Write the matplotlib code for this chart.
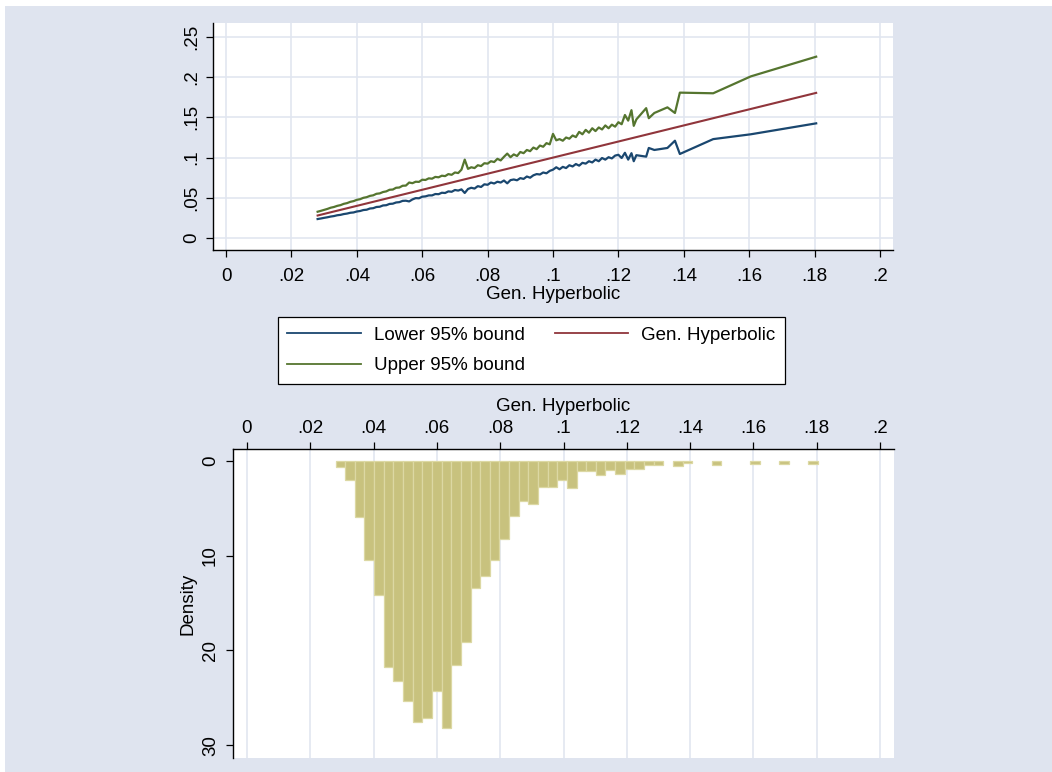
import numpy as np
import matplotlib
matplotlib.use("Agg")
import matplotlib.pyplot as plt
from matplotlib.patches import Rectangle

plt.rcParams['font.family'] = ['Liberation Sans', 'DejaVu Sans']

# Quantiles of the Gen. Hyperbolic estimate with 95% bounds
gh = [0.028, 0.029, 0.030, 0.031, 0.032, 0.033, 0.034, 0.035, 0.036, 0.037,
      0.038, 0.039, 0.040, 0.041, 0.042, 0.043, 0.044, 0.045, 0.046, 0.047,
      0.048, 0.049, 0.050, 0.051, 0.052, 0.053, 0.054, 0.055, 0.056, 0.057,
      0.058, 0.059, 0.060, 0.061, 0.062, 0.063, 0.064, 0.065, 0.066, 0.067,
      0.068, 0.069, 0.070, 0.071, 0.072, 0.073, 0.074, 0.075, 0.076, 0.077,
      0.078, 0.079, 0.080, 0.081, 0.082, 0.083, 0.084, 0.085, 0.086, 0.087,
      0.088, 0.089, 0.090, 0.091, 0.092, 0.093, 0.094, 0.095, 0.096, 0.097,
      0.098, 0.099, 0.100, 0.101, 0.102, 0.103, 0.104, 0.105, 0.106, 0.107,
      0.108, 0.109, 0.110, 0.111, 0.112, 0.113, 0.114, 0.115, 0.116, 0.117,
      0.118, 0.119, 0.120, 0.121, 0.122, 0.123, 0.124,
      0.1247, 0.1255, 0.1285, 0.1293, 0.1310, 0.1350, 0.1373, 0.1388, 0.1490, 0.1605, 0.1805]

upper = [0.0327, 0.0338, 0.0350, 0.0362, 0.0377, 0.0386, 0.0400, 0.0409, 0.0425, 0.0434,
         0.0450, 0.0459, 0.0475, 0.0483, 0.0500, 0.0508, 0.0524, 0.0531, 0.0550, 0.0555,
         0.0572, 0.0580, 0.0600, 0.0603, 0.0625, 0.0628, 0.0650, 0.0652, 0.0690, 0.0682,
         0.0700, 0.0698, 0.0725, 0.0722, 0.0742, 0.0738, 0.0760, 0.0755, 0.0775, 0.0770,
         0.0795, 0.0786, 0.0815, 0.0808, 0.0850, 0.0975, 0.0860, 0.0880, 0.0870, 0.0905,
         0.0895, 0.0930, 0.0925, 0.0955, 0.0945, 0.0985, 0.0965, 0.1010, 0.1050, 0.1005,
         0.1040, 0.1020, 0.1070, 0.1055, 0.1095, 0.1080, 0.1125, 0.1105, 0.1150, 0.1135,
         0.1180, 0.1165, 0.1295, 0.1215, 0.1230, 0.1210, 0.1250, 0.1235, 0.1275, 0.1255,
         0.1320, 0.1290, 0.1345, 0.1310, 0.1365, 0.1330, 0.1375, 0.1350, 0.1400, 0.1365,
         0.1410, 0.1385, 0.1440, 0.1415, 0.1530, 0.1460, 0.1590,
         0.1395, 0.1475, 0.1615, 0.1490, 0.1555, 0.1625, 0.1555, 0.1808, 0.1800, 0.2010, 0.2255]

lower = [0.0236, 0.0243, 0.0251, 0.0258, 0.0267, 0.0273, 0.0283, 0.0288, 0.0298, 0.0304,
         0.0314, 0.0318, 0.0330, 0.0336, 0.0348, 0.0352, 0.0367, 0.0371, 0.0386, 0.0389,
         0.0405, 0.0408, 0.0424, 0.0427, 0.0442, 0.0446, 0.0462, 0.0464, 0.0455, 0.0480,
         0.0496, 0.0494, 0.0514, 0.0518, 0.0530, 0.0530, 0.0547, 0.0545, 0.0563, 0.0560,
         0.0580, 0.0575, 0.0597, 0.0590, 0.0605, 0.0560, 0.0610, 0.0625, 0.0615, 0.0645,
         0.0635, 0.0668, 0.0662, 0.0690, 0.0678, 0.0700, 0.0690, 0.0715, 0.0680, 0.0720,
         0.0728, 0.0718, 0.0745, 0.0735, 0.0765, 0.0750, 0.0780, 0.0795, 0.0790, 0.0815,
         0.0805, 0.0835, 0.0850, 0.0880, 0.0855, 0.0885, 0.0870, 0.0905, 0.0890, 0.0920,
         0.0900, 0.0935, 0.0925, 0.0955, 0.0940, 0.0975, 0.0955, 0.0995, 0.0975, 0.1005,
         0.0990, 0.1025, 0.1035, 0.0995, 0.1060, 0.0975, 0.1055,
         0.0955, 0.1030, 0.1012, 0.1120, 0.1095, 0.1120, 0.1210, 0.1045, 0.1230, 0.1290, 0.1426]

# Histogram of Gen. Hyperbolic (density per bin)
bin_start = 0.0280
bin_width = 0.003045
density = [0.67, 2.0, 5.95, 10.4, 14.2, 21.7, 23.2, 25.3, 27.6, 27.1,
           24.3, 28.2, 21.5, 19.1, 13.4, 12.1, 10.4, 8.2, 5.8, 4.2,
           4.5, 2.7, 2.7, 2.0, 2.8, 1.1, 1.1, 1.5, 1.0, 1.4,
           0.85, 0.85, 0.4, 0.4, 0.0, 0.5, 0.25, 0.0, 0.0, 0.4,
           0.0, 0.0, 0.0, 0.3, 0.0, 0.0, 0.3, 0.0, 0.0, 0.3]

x_ticks = [0, 0.02, 0.04, 0.06, 0.08, 0.1, 0.12, 0.14, 0.16, 0.18, 0.2]
x_labels = ['0', '.02', '.04', '.06', '.08', '.1', '.12', '.14', '.16', '.18', '.2']
y_ticks = [0, 0.05, 0.1, 0.15, 0.2, 0.25]
y_labels = ['0', '.05', '.1', '.15', '.2', '.25']
d_ticks = [0, 10, 20, 30]

# Colours (Stata s2color look)
bg = '#dfe4ef'
grid_c = '#e1e6f0'
c_low = '#1a476f'
c_gh = '#90353b'
c_up = '#55752f'
fs = 13.5

W, H = 1052, 772
fig = plt.figure(figsize=(W / 100, H / 100), dpi=100)
fig.patch.set_facecolor('white')
fig.add_artist(Rectangle((5 / W, 0), 1 - 5 / W, 1 - 6 / H, transform=fig.transFigure,
                         facecolor=bg, edgecolor='none', zorder=-10))


def style_axis(ax):
    ax.set_facecolor('white')
    for s in ax.spines.values():
        s.set_visible(False)
    ax.tick_params(direction='out', length=5, width=0.9, color='black', labelsize=fs)
    ax.set_axisbelow(True)


# ---------------- top: quantile plot ----------------
ax1 = fig.add_axes([213 / W, 1 - 250 / H, 680 / W, 227 / H])
style_axis(ax1)
ax1.spines['left'].set_visible(True)
ax1.spines['bottom'].set_visible(True)
ax1.spines['left'].set_linewidth(1.0)
ax1.spines['bottom'].set_linewidth(1.0)

ax1.plot(gh, lower, color=c_low, lw=1.6, label='Lower 95% bound')
ax1.plot(gh, upper, color=c_up, lw=1.6, label='Upper 95% bound')
ax1.plot(gh, gh, color=c_gh, lw=1.5, label='Gen. Hyperbolic')

ax1.set_xlim(-0.004, 0.204)
ax1.set_ylim(-0.0149, 0.2674)
ax1.set_xticks(x_ticks)
ax1.set_xticklabels(x_labels)
ax1.set_yticks(y_ticks)
ax1.set_yticklabels(y_labels, rotation=90, va='center')
ax1.tick_params(axis='x', pad=8)
ax1.tick_params(axis='y', pad=4)
ax1.grid(True, color=grid_c, lw=1.2)
ax1.set_xlabel('Gen. Hyperbolic', fontsize=fs, labelpad=1)

h, l = ax1.get_legend_handles_labels()
leg = fig.legend(h, l, loc='upper left', bbox_to_anchor=(278 / W, 1 - 317 / H),
                 ncol=2, fontsize=fs, frameon=True, fancybox=False, shadow=False,
                 borderaxespad=0, borderpad=0.5, handlelength=3.9, handletextpad=0.7,
                 columnspacing=1.6, labelspacing=0.72)
leg.get_frame().set_edgecolor('black')
leg.get_frame().set_linewidth(0.9)
leg.get_frame().set_facecolor('white')
leg.get_frame().set_alpha(1)
for line in leg.get_lines():
    line.set_linewidth(1.3)

# ---------------- bottom: histogram ----------------
ax2 = fig.add_axes([233 / W, 1 - 758 / H, 661 / W, 309 / H])
style_axis(ax2)
ax2.spines['left'].set_visible(True)
ax2.spines['top'].set_visible(True)
ax2.spines['left'].set_linewidth(1.0)
ax2.spines['top'].set_linewidth(1.0)

lefts = [bin_start + i * bin_width for i in range(len(density))]
keep = [i for i, d in enumerate(density) if d > 0]
ax2.bar([lefts[i] for i in keep], [density[i] for i in keep], width=bin_width,
        align='edge', color='#c8c27e', edgecolor='#dcd8a3', linewidth=0.9)

ax2.set_xlim(-0.0044, 0.2044)
ax2.set_ylim(31.36, -1.27)
ax2.xaxis.tick_top()
ax2.xaxis.set_label_position('top')
ax2.set_xticks(x_ticks)
ax2.set_xticklabels(x_labels)
ax2.set_yticks(d_ticks)
ax2.set_yticklabels([str(t) for t in d_ticks], rotation=90, va='center')
ax2.tick_params(axis='x', pad=4)
ax2.tick_params(axis='y', pad=5)
ax2.grid(True, axis='x', color=grid_c, lw=1.2)
ax2.set_xlabel('Gen. Hyperbolic', fontsize=fs, labelpad=6)
ax2.set_ylabel('Density', fontsize=fs, labelpad=4)

fig.savefig('out.png', dpi=100, facecolor=fig.get_facecolor())
